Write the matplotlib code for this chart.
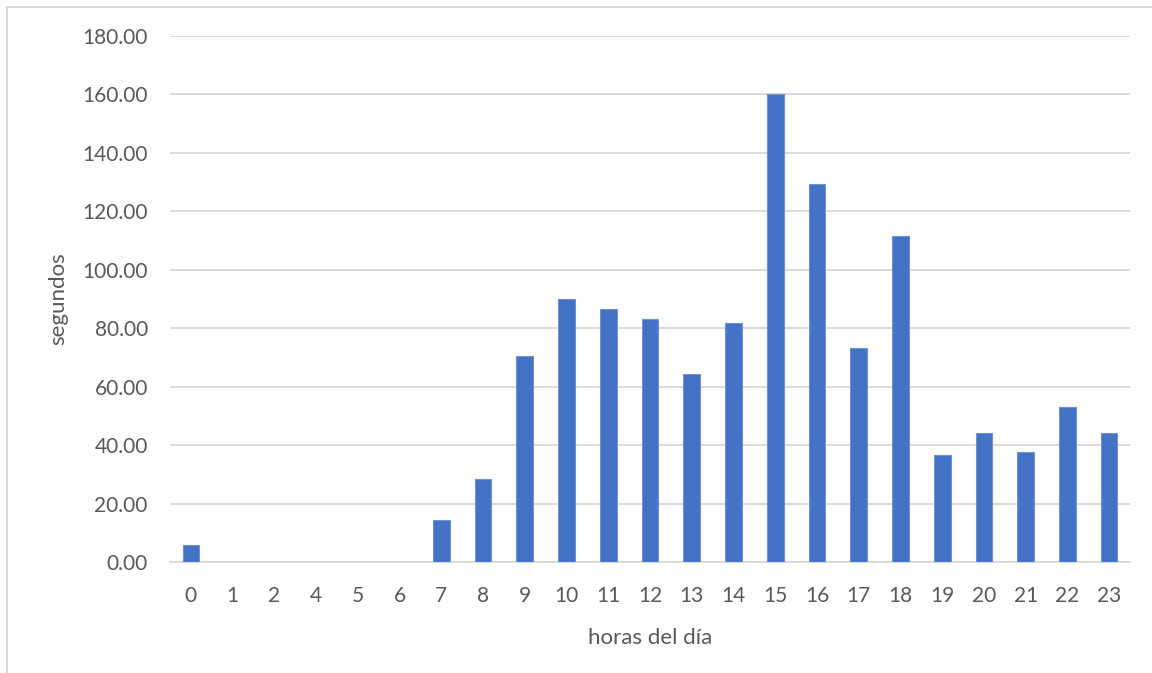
import matplotlib.pyplot as plt
from matplotlib.lines import Line2D

# Average seconds per hour of the day (hour 3 has no record)
horas = ['0', '1', '2', '4', '5', '6', '7', '8', '9', '10', '11', '12',
         '13', '14', '15', '16', '17', '18', '19', '20', '21', '22', '23']
segundos = [5.9, 0, 0, 0, 0, 0, 14.4, 28.3, 70.5, 89.9, 86.5, 83.1,
            64.5, 81.7, 160.0, 129.2, 73.1, 111.4, 36.5, 44.0, 37.5, 52.9, 44.3]

yticks = [0, 20, 40, 60, 80, 100, 120, 140, 160, 180]

text_color = '#595959'
grid_color = '#d9d9d9'
bar_color = '#4472c4'

plt.rcParams['font.family'] = ['Lato', 'DejaVu Sans']

fig = plt.figure(figsize=(11.52, 6.73), dpi=100)
ax = fig.add_axes([170 / 1152, 1 - 562 / 673, 960 / 1152, 526 / 673])

x = list(range(len(horas)))
ax.bar(x, segundos, width=0.4, color=bar_color, edgecolor='#6f93d3',
       linewidth=0.8, zorder=3)

ax.set_xlim(-0.5, len(horas) - 0.5)
ax.set_ylim(0, 180)
ax.set_yticks(yticks)
ax.set_yticklabels([f'{v:.2f}' for v in yticks])
ax.set_xticks(x)
ax.set_xticklabels(horas)

ax.grid(axis='y', color=grid_color, linewidth=1.3, zorder=0)
for side in ['top', 'right', 'left']:
    ax.spines[side].set_visible(False)
ax.spines['bottom'].set_color(grid_color)
ax.spines['bottom'].set_linewidth(1.3)
ax.tick_params(axis='both', length=0, labelsize=15, labelcolor=text_color)
ax.tick_params(axis='y', pad=16)
ax.tick_params(axis='x', pad=17)

ax.set_xlabel('horas del día', fontsize=16, color=text_color, labelpad=16)
ax.set_ylabel('segundos', fontsize=16, color=text_color, labelpad=10)

# outer chart frame (left and top edges)
fig.add_artist(Line2D([7 / 1152, 7 / 1152], [0, 1 - 7 / 673],
                      transform=fig.transFigure, color=grid_color, linewidth=1.5))
fig.add_artist(Line2D([7 / 1152, 1], [1 - 7 / 673, 1 - 7 / 673],
                      transform=fig.transFigure, color=grid_color, linewidth=1.5))

fig.savefig('out.png', dpi=100)
